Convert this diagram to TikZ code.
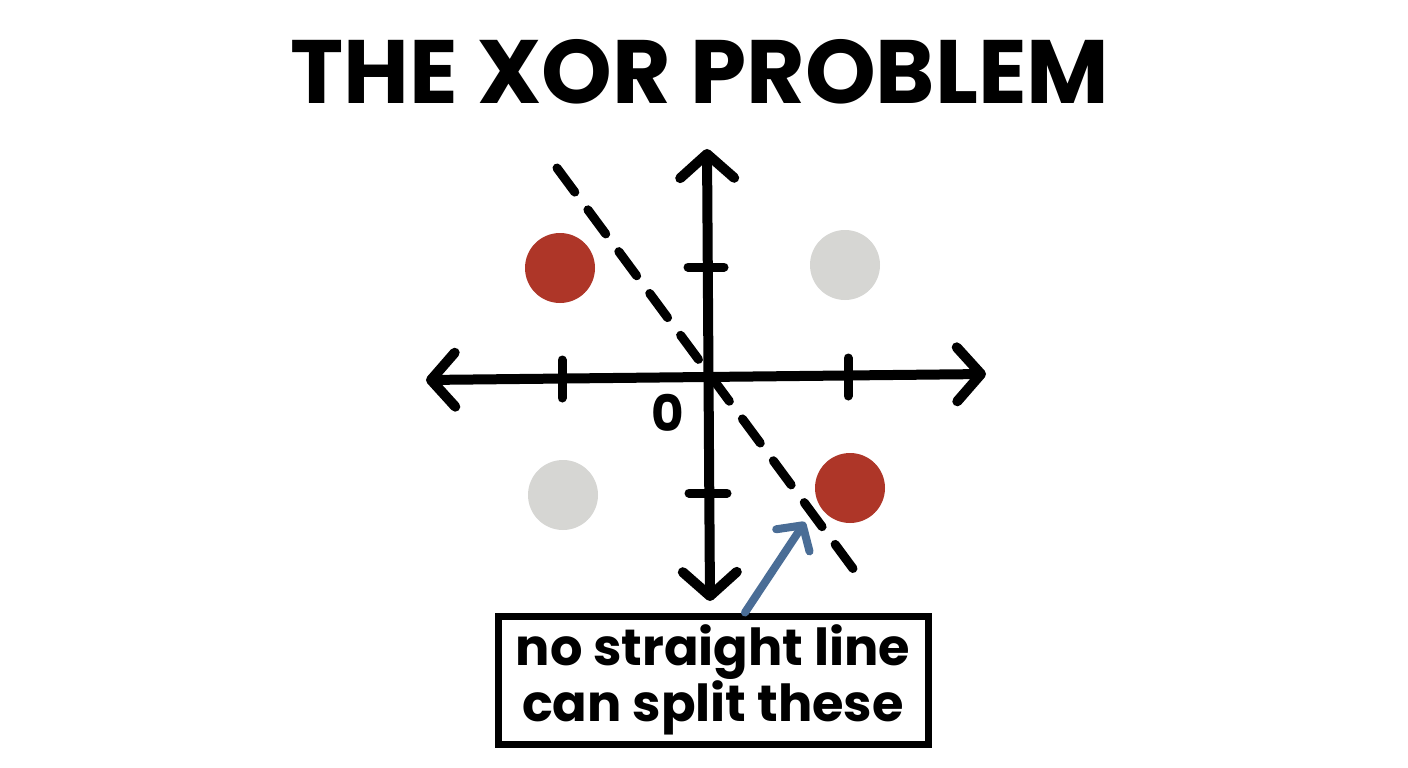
\documentclass[tikz,border=0pt]{standalone}
\usepackage{fontspec}
\setmainfont{Poppins}
\usetikzlibrary{arrows.meta,positioning}
\definecolor{xorred}{HTML}{AE3628}
\definecolor{xorgray}{HTML}{D6D6D3}
\definecolor{xorblue}{HTML}{4A6D96}

\begin{document}
\begin{tikzpicture}[x=1pt,y=-1pt,
  axisline/.style={line width=10pt,line cap=round,line join=round,
    {Straight Barb[length=24pt,width=54pt,line cap=round,line join=round]}-{Straight Barb[length=24pt,width=54pt,line cap=round,line join=round]}},
  tick/.style={line width=9pt,line cap=round},
  dot/.style={circle,inner sep=0pt,minimum size=70pt},
  sepline/.style={line width=9pt,line cap=round,dash pattern=on 30pt off 22pt},
  pointer/.style={xorblue,line width=8pt,line cap=round,line join=round,
    -{Straight Barb[length=18pt,width=40pt,line cap=round,line join=round]}}]
\fill[white] (0,0) rectangle (1408,768);
\useasboundingbox (0,0) rectangle (1408,768);

% title
\node[font=\fontsize{90}{90}\selectfont\bfseries] (title) at (700,72) {THE XOR PROBLEM};

% axes
\coordinate (o) at (708,378);
\coordinate (xl) at (426,380);
\coordinate (xr) at (986,374);
\coordinate (yt) at (707,149);
\coordinate (yb) at (710,601);
\draw[axisline] (xl) -- (xr);
\draw[axisline] (yt) -- (yb);
\draw[tick] (562,360) -- (562,398);
\draw[tick] (848,358) -- (848,396);
\draw[tick] (688,267) -- (724,267);
\draw[tick] (689,493) -- (727,493);
\node[font=\fontsize{50}{50}\selectfont\bfseries] (zero) at (668,413) {0};

% points
\node[dot,fill=xorred] (p1) at (560,268) {};
\node[dot,fill=xorgray] (p2) at (845,265) {};
\node[dot,fill=xorgray] (p3) at (563,495) {};
\node[dot,fill=xorred] (p4) at (850,488) {};

% the line that fails
\coordinate (sa) at (557,168);
\coordinate (sb) at (860,578);
\draw[sepline] (sa) -- (sb);

% note
\node[draw,line width=7pt,minimum width=430pt,minimum height=128pt,align=center,
  font=\fontsize{51}{46}\selectfont\bfseries] (note) at (713,680) {no straight line\\can split these};
\coordinate (hit) at (805,522);
\draw[pointer] ([xshift=32pt]note.north) -- (hit);
\end{tikzpicture}
\end{document}
